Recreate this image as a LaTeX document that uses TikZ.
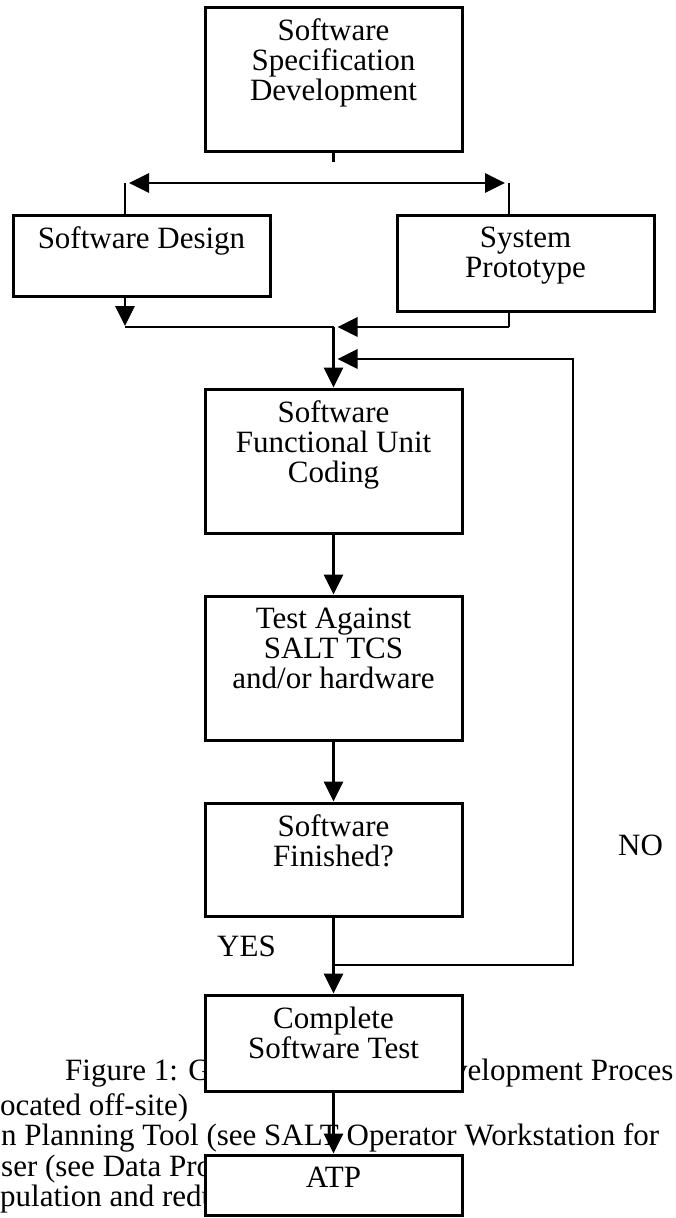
\documentclass[tikz,border=0pt]{standalone}
\usepackage{fontspec}
\setmainfont{Liberation Serif}
\usepackage{tikz}
\usetikzlibrary{arrows.meta,positioning,calc}
\newcommand{\flowfont}{\fontsize{31}{30}\selectfont}

\begin{document}
\begin{tikzpicture}[
  x=1pt, y=-1pt,
  box/.style={draw, line width=3pt, fill=white, minimum width=257pt},
  lbl/.style={inner sep=0pt, align=center, font=\flowfont},
  bg/.style={inner sep=0pt, anchor=base west, font=\flowfont},
  ln/.style={line width=2.9pt},
  arr/.style={-{Triangle[length=20pt,width=19pt]}, line width=2.9pt}
]
  \useasboundingbox (0,0) rectangle (676,1218);
  \clip (0,0) rectangle (676,1218);

  % page text behind the chart
  \node[bg] (figcap) at (65,1080) {Figure 1: G};
  \node[bg] (figcapR) at (452,1080) {velopment Proces};
  \node[bg] (offsite) at (0,1115) {ocated off-site)};
  \node[bg] (plantool) at (1,1145) {n Planning Tool (see SALT Operator Workstation for};
  \node[bg] (dataproc) at (1,1176) {ser (see Data Pro};
  \node[bg] (datared) at (0,1206) {pulation and redu};

  % boxes
  \node[box, minimum height=144pt] (spec) at (333.5,79) {};
  \node[lbl, below=13pt of spec.north] (specT) {Software\\Specification\\Development};

  \node[box, minimum height=81pt] (design) at (141.5,255.5) {};
  \node[lbl, below=13pt of design.north] (designT) {Software Design};

  \node[box, minimum height=96pt] (proto) at (525.5,263) {};
  \node[lbl, below=13pt of proto.north] (protoT) {System\\Prototype};

  \node[box, minimum height=144pt] (coding) at (333.5,461) {};
  \node[lbl, below=13pt of coding.north] (codingT) {Software\\Functional Unit\\Coding};

  \node[box, minimum height=144pt] (test) at (333.5,668) {};
  \node[lbl, below=13pt of test.north] (testT) {Test Against\\SALT TCS\\and/or hardware};

  \node[box, minimum height=113pt] (finish) at (333.5,859.5) {};
  \node[lbl, below=13pt of finish.north] (finishT) {Software\\Finished?};

  \node[box, minimum height=96pt] (complete) at (333.5,1043) {};
  \node[lbl, below=13pt of complete.north] (completeT) {Complete\\Software Test};

  \node[box, minimum height=60pt] (atp) at (333.5,1185) {};
  \node[lbl, below=13pt of atp.north] (atpT) {ATP};

  % labels
  \node[bg] (yes) at (217,956) {YES};
  \node[bg] (no) at (618,855) {NO};

  % split
  \coordinate (stub) at (333.5,162);
  \coordinate (split) at (333.5,183);
  \coordinate (splitL) at (125,183);
  \coordinate (splitR) at (509,183);
  \draw[ln] (spec.south) -- (stub);
  \draw[arr, shorten >=4pt] (split) -- (splitL);
  \draw[arr, shorten >=4pt] (split) -- (splitR);
  \draw[ln] (splitL) -- (splitL |- design.north);
  \draw[ln] (splitR) -- (splitR |- proto.north);

  % merge
  \coordinate (mergeL) at (125,327);
  \coordinate (merge) at (333.5,327);
  \coordinate (mergeR) at (509,327);
  \draw[arr, shorten >=1pt] (mergeL |- design.south) -- (mergeL);
  \draw[ln] (mergeL) -- (merge);
  \draw[ln] (mergeR |- proto.south) -- (mergeR);
  \draw[arr, shorten >=4pt] (mergeR) -- (merge);
  \draw[arr] (merge) -- (coding.north);

  % main flow
  \draw[arr] (coding) -- (test);
  \draw[arr] (test) -- (finish);
  \draw[arr] (finish) -- (complete);
  \draw[arr] (complete) -- (atp);

  % NO loop
  \coordinate (loopJ) at (333.5,965);
  \coordinate (loopB) at (573,965);
  \coordinate (loopT) at (573,359);
  \coordinate (loopIn) at (333.5,359);
  \draw[arr, shorten >=4pt] (loopJ) -- (loopB) -- (loopT) -- (loopIn);
\end{tikzpicture}
\end{document}
